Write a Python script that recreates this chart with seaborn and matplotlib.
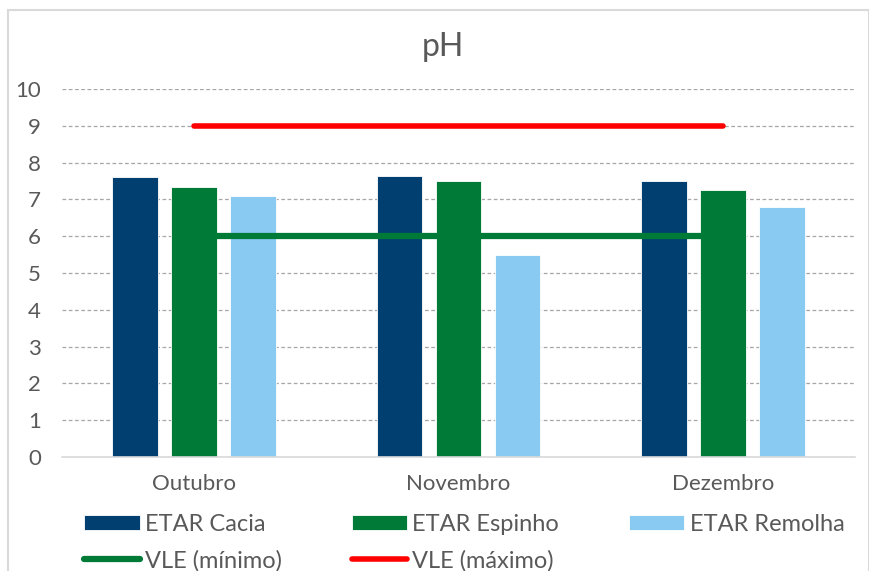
import pandas as pd
import seaborn as sns
import matplotlib.pyplot as plt
from matplotlib.patches import Rectangle

sns.set_theme(style="white")
plt.rcParams['font.family'] = ['Lato', 'DejaVu Sans']

meses = ["Outubro", "Novembro", "Dezembro"]
etar_cacia = [7.6, 7.65, 7.5]
etar_espinho = [7.35, 7.5, 7.25]
etar_remolha = [7.1, 5.5, 6.8]
vle_minimo = [6, 6, 6]
vle_maximo = [9, 9, 9]

series = ["ETAR Cacia", "ETAR Espinho", "ETAR Remolha"]
cores = ["#003F6F", "#007A37", "#89CAF2"]

df = pd.DataFrame({
    "mes": meses * 3,
    "etar": [s for s in series for _ in meses],
    "ph": etar_cacia + etar_espinho + etar_remolha,
})

fig = plt.figure(figsize=(8.69, 5.71), dpi=100)
ax = fig.add_axes([0.0713, 0.1996, 0.9127, 0.6445])

sns.barplot(data=df, x="mes", y="ph", hue="etar", palette=cores, ax=ax,
            saturation=1, width=0.67, gap=0.23, edgecolor="white",
            linewidth=0.6, zorder=2)

df_lin = pd.DataFrame({"x": [0, 1, 2], "min": vle_minimo, "max": vle_maximo})
sns.lineplot(data=df_lin, x="x", y="min", color="#007A37", linewidth=4.5,
             solid_capstyle="round", label="VLE (mínimo)", ax=ax, zorder=3)
sns.lineplot(data=df_lin, x="x", y="max", color="#FF0000", linewidth=4.0,
             solid_capstyle="round", label="VLE (máximo)", ax=ax, zorder=3)

ax.set_xlim(-0.5, 2.5)
ax.set_ylim(0, 10)
ax.set_yticks(range(0, 11))
ax.yaxis.grid(True, linestyle=(0, (3, 2)), color="#A6A6A6", linewidth=0.9, zorder=0)
ax.set_axisbelow(True)
for s in ["left", "right", "top"]:
    ax.spines[s].set_visible(False)
ax.spines["bottom"].set_color("#D9D9D9")
ax.spines["bottom"].set_linewidth(1.2)
ax.tick_params(axis="both", length=0, labelsize=16, colors="#595959")
ax.tick_params(axis="x", pad=12)
ax.tick_params(axis="y", pad=15)
ax.set_xticks([0, 1, 2])
ax.set_xticklabels(meses)
ax.set_xlabel("")
ax.set_ylabel("")
fig.text(0.51, 0.918, "pH", fontsize=23, color="#595959", ha="center", va="center")

handles, labels = ax.get_legend_handles_labels()
h = dict(zip(labels, handles))
ordem = ["ETAR Cacia", "VLE (mínimo)", "ETAR Espinho", "VLE (máximo)", "ETAR Remolha"]
ax.legend([h[k] for k in ordem], ordem, ncol=3, frameon=False,
          loc="upper left", bbox_to_anchor=(0.0016, -0.097),
          fontsize=17, labelcolor="#595959", handlelength=2.35,
          handleheight=0.6, handletextpad=0.22, columnspacing=2.95,
          labelspacing=0.62)

fig.patches.append(Rectangle((0.0095, -0.05), 0.99, 1.032, transform=fig.transFigure,
                             fill=False, edgecolor="#D9D9D9", linewidth=1.5))

plt.savefig("out.png", dpi=100)
